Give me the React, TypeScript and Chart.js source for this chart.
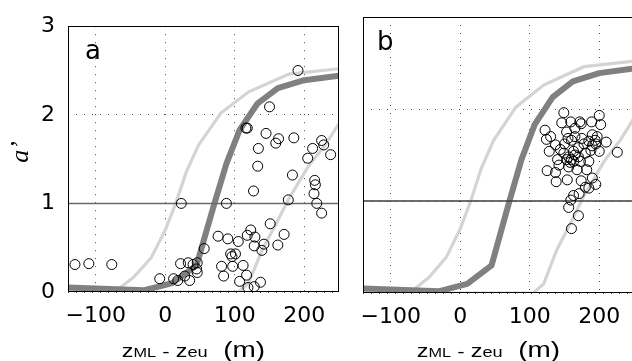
import React, { useEffect, useRef } from "react";
import { Chart, registerables } from "chart.js";

Chart.register(...registerables);

// ---- axis setup ----
const xTickValues = [-100, 0, 100, 200];
const yTickValues = [0, 1, 2, 3];
const xMin = -140;
const xMax = 250;
const yMin = 0;
const yMax = 3;

// ---- model curves (same in both panels) ----
const darkCurveX = [-140, -30, 10, 45, 70, 88, 107, 133, 162, 200, 250];
const darkCurveY = [0.05, 0.02, 0.1, 0.3, 0.98, 1.45, 1.83, 2.13, 2.3, 2.39, 2.44];
const lightLeftX = [-140, -73, -45, -20, 0, 15, 30, 48, 80, 120, 178, 250];
const lightLeftY = [0, 0, 0.17, 0.39, 0.7, 1.0, 1.35, 1.66, 2.02, 2.26, 2.46, 2.52];
const lightRightX = [-140, 105, 120, 139, 160, 177, 206, 231, 250];
const lightRightY = [0, 0, 0.1, 0.47, 0.78, 1.04, 1.42, 1.67, 1.9];
const refLineX = [-140, 250];
const refLineY = [1, 1];

// ---- observations, panel a: [zML - zeu, a'] ----
const scatterA: [number, number][] = [
  [-130, 0.31], [-110, 0.32], [-77, 0.31],
  [-8, 0.15], [12, 0.15], [18, 0.13], [22, 0.32], [23, 1.0], [28, 0.18], [35, 0.13],
  [33, 0.33], [40, 0.31], [45, 0.26], [46, 0.33], [46, 0.22],
  [56, 0.49], [76, 0.63], [88, 1.0], [90, 0.6], [105, 0.57], [81, 0.29], [84, 0.18],
  [94, 0.43], [96, 0.4], [101, 0.43], [97, 0.29], [112, 0.3], [117, 0.19], [107, 0.12],
  [119, 0.05], [128, 0.06], [137, 0.11], [118, 0.64], [123, 0.7], [129, 0.62], [128, 0.52],
  [142, 0.54], [139, 0.47], [151, 0.77], [162, 0.53], [171, 0.65],
  [116, 1.85], [118, 1.85], [150, 2.09], [145, 1.79], [163, 1.73], [159, 1.68], [185, 1.74],
  [134, 1.62], [133, 1.42], [127, 1.14], [183, 1.32], [177, 1.04], [191, 2.5],
  [225, 1.71], [228, 1.66], [212, 1.62], [238, 1.55], [205, 1.51], [215, 1.26], [216, 1.21],
  [214, 1.11], [218, 1.0], [225, 0.89],
];

// ---- observations, panel b ----
const scatterB: [number, number][] = [
  [149, 1.96], [200, 1.93], [146, 1.85], [159, 1.86], [172, 1.86], [174, 1.84], [189, 1.86],
  [202, 1.83], [122, 1.77], [130, 1.7], [124, 1.67], [153, 1.75], [165, 1.79], [155, 1.68],
  [160, 1.66], [165, 1.7], [175, 1.68], [190, 1.72], [194, 1.66], [195, 1.62], [210, 1.64],
  [226, 1.53], [137, 1.61], [144, 1.56], [128, 1.54], [149, 1.52], [156, 1.48], [163, 1.54],
  [170, 1.48], [180, 1.52], [188, 1.55], [200, 1.54], [140, 1.45], [153, 1.45], [163, 1.43],
  [173, 1.43], [185, 1.43], [142, 1.39], [156, 1.37], [168, 1.34], [182, 1.34], [125, 1.33],
  [137, 1.31], [138, 1.21], [154, 1.23], [174, 1.22], [180, 1.15], [185, 1.14], [195, 1.18],
  [190, 1.25], [171, 1.08], [163, 1.06], [159, 1.01], [156, 0.93], [170, 0.84], [160, 0.7],
  [160, 1.45], [165, 1.5], [158, 1.42], [170, 1.58], [178, 1.62], [150, 1.62], [190, 1.6],
  [197, 1.7], [185, 1.65],
];

const tickFont = { family: "'DejaVu Sans', sans-serif", size: 22 };

const toPoints = (xs: number[], ys: number[]) => xs.map((x, i) => ({ x, y: ys[i] }));

type PanelSpec = {
  label: string;
  scatter: [number, number][];
  showYLabels: boolean;
  yAxisWidth: number;
  padTop: number;
  padRight: number;
  xAxisHeight: number;
  refColor: string;
  labelDx: number;
};

function drawXTitle(ctx: CanvasRenderingContext2D, cx: number, baseline: number) {
  const pieces = [
    { t: "z", s: 18 },
    { t: "ML", s: 12.5 },
    { t: " - ", s: 17 },
    { t: "z", s: 18 },
    { t: "eu", s: 14 },
    { t: "  (m)", s: 21.5 },
  ];
  const fam = "'Liberation Sans', Arial, sans-serif";
  let total = 0;
  const widths = pieces.map((p) => {
    ctx.font = `${p.s}px ${fam}`;
    const w = ctx.measureText(p.t).width;
    total += w;
    return w;
  });
  ctx.save();
  ctx.translate(cx, baseline);
  ctx.scale(1.3, 1);
  ctx.fillStyle = "#000";
  ctx.textBaseline = "alphabetic";
  ctx.textAlign = "left";
  let x = -total / 2;
  pieces.forEach((p, i) => {
    ctx.font = `${p.s}px ${fam}`;
    ctx.fillText(p.t, x, 0);
    x += widths[i];
  });
  ctx.restore();
}

function decorPlugin(spec: PanelSpec) {
  return {
    id: "decor" + spec.label,
    afterDraw(chart: any) {
      const { ctx, chartArea: ca } = chart;
      ctx.save();
      ctx.setLineDash([]);
      ctx.strokeStyle = "#000";
      ctx.lineWidth = 1;
      const l = Math.round(ca.left) + 0.5;
      const t = Math.round(ca.top) + 0.5;
      const r = Math.round(ca.right) - 0.5;
      const b = Math.round(ca.bottom) - 0.5;
      ctx.strokeRect(l, t, r - l, b - t);

      ctx.fillStyle = "#000";
      ctx.font = "26px 'DejaVu Sans', sans-serif";
      ctx.textAlign = "left";
      ctx.textBaseline = "alphabetic";
      ctx.fillText(spec.label, ca.left + spec.labelDx, ca.top + 33);

      drawXTitle(ctx, (ca.left + ca.right) / 2 - 10, 357);

      if (spec.showYLabels) {
        ctx.save();
        ctx.translate(28, 152);
        ctx.rotate(-Math.PI / 2);
        ctx.font = "italic 26px 'Liberation Serif', 'Times New Roman', serif";
        ctx.textAlign = "center";
        ctx.textBaseline = "alphabetic";
        ctx.fillText("a\u2019", 0, 0);
        ctx.restore();
      }
      ctx.restore();
    },
  };
}

function buildChart(canvas: HTMLCanvasElement, spec: PanelSpec) {
  const light = "rgb(212,212,212)";
  const dark = "rgb(128,128,128)";
  return new Chart(canvas, {
    type: "scatter",
    data: {
      datasets: [
        {
          label: "obs",
          data: spec.scatter.map(([x, y]) => ({ x, y })),
          pointRadius: 5,
          pointBorderWidth: 1,
          borderColor: "#000",
          backgroundColor: "rgba(0,0,0,0)",
          pointBackgroundColor: "rgba(0,0,0,0)",
          pointBorderColor: "#000",
        },
        {
          label: "ref",
          data: toPoints(refLineX, refLineY),
          showLine: true,
          pointRadius: 0,
          borderColor: spec.refColor,
          borderWidth: 1.5,
        },
        {
          label: "dark",
          data: toPoints(darkCurveX, darkCurveY),
          showLine: true,
          pointRadius: 0,
          borderColor: dark,
          borderWidth: 6,
          borderJoinStyle: "round",
        },
        {
          label: "lightLeft",
          data: toPoints(lightLeftX, lightLeftY),
          showLine: true,
          pointRadius: 0,
          borderColor: light,
          borderWidth: 3.2,
        },
        {
          label: "lightRight",
          data: toPoints(lightRightX, lightRightY),
          showLine: true,
          pointRadius: 0,
          borderColor: light,
          borderWidth: 3.2,
        },
      ],
    } as any,
    options: {
      animation: false,
      responsive: false,
      devicePixelRatio: 1,
      events: [],
      layout: { padding: { top: spec.padTop, right: spec.padRight, left: 0, bottom: 0 } },
      plugins: { legend: { display: false }, tooltip: { enabled: false } },
      scales: {
        x: {
          type: "linear",
          min: xMin,
          max: xMax,
          afterBuildTicks: (s: any) => {
            s.ticks = xTickValues.map((v) => ({ value: v }));
          },
          afterFit: (s: any) => {
            s.height = spec.xAxisHeight;
          },
          ticks: {
            font: tickFont,
            color: "#000",
            padding: 11,
            maxRotation: 0,
            autoSkip: false,
            callback: (v: any) => (v < 0 ? "\u2212" + Math.abs(v) : String(v)),
          },
          grid: { color: "#444", lineWidth: 1, drawTicks: false },
          border: { display: false, dash: [1, 7] },
        },
        y: {
          type: "linear",
          min: yMin,
          max: yMax,
          afterBuildTicks: (s: any) => {
            s.ticks = yTickValues.map((v) => ({ value: v }));
          },
          afterFit: (s: any) => {
            s.width = spec.yAxisWidth;
          },
          ticks: {
            display: spec.showYLabels,
            font: tickFont,
            color: "#000",
            padding: 13,
          },
          grid: { color: "#444", lineWidth: 1, drawTicks: false },
          border: { display: false, dash: [1, 7] },
        },
      },
    } as any,
    plugins: [decorPlugin(spec)],
  });
}

const panelA: PanelSpec = {
  label: "a",
  scatter: scatterA,
  showYLabels: true,
  yAxisWidth: 68,
  padTop: 15,
  padRight: 6,
  xAxisHeight: 69,
  refColor: "#6a6a6a",
  labelDx: 17,
};

const panelB: PanelSpec = {
  label: "b",
  scatter: scatterB,
  showYLabels: false,
  yAxisWidth: 18,
  padTop: 17,
  padRight: 11,
  xAxisHeight: 68,
  refColor: "#3c3c3c",
  labelDx: 14,
};

export default function App() {
  const refA = useRef<HTMLCanvasElement>(null);
  const refB = useRef<HTMLCanvasElement>(null);

  useEffect(() => {
    const a = buildChart(refA.current!, panelA);
    const b = buildChart(refB.current!, panelB);
    return () => {
      a.destroy();
      b.destroy();
    };
  }, []);

  return (
    <div
      style={{
        position: "fixed",
        left: 0,
        top: 0,
        width: 632,
        height: 361,
        overflow: "hidden",
        background: "#fff",
      }}
    >
      <canvas
        ref={refA}
        width={345}
        height={361}
        style={{ position: "absolute", left: 0, top: 0, width: 345, height: 361 }}
      />
      <canvas
        ref={refB}
        width={300}
        height={361}
        style={{ position: "absolute", left: 345, top: 0, width: 300, height: 361 }}
      />
    </div>
  );
}
